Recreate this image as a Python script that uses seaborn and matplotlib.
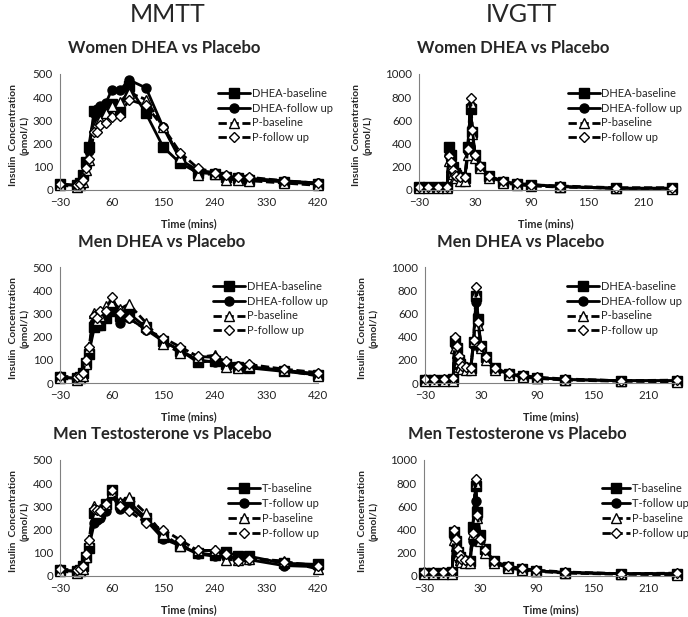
import numpy as np
import pandas as pd
import matplotlib
matplotlib.use("Agg")
import matplotlib.pyplot as plt
import seaborn as sns

sns.set_style("white")
plt.rcParams['font.family'] = ['Lato', 'DejaVu Sans']

# ----------------------------
# Data
# ----------------------------
mmtt_time = [-30, 0, 5, 10, 15, 20, 30, 35, 40, 50, 60, 75, 90, 120, 150, 180, 210, 240, 260, 280, 300, 360, 420]
ivgtt_time = [-30, -20, -10, 0, 2, 4, 6, 8, 10, 14, 19, 22, 25, 27, 30, 35, 45, 60, 75, 90, 120, 180, 240]

dhea_labels = ["DHEA-baseline", "DHEA-follow up", "P-baseline", "P-follow up"]
t_labels = ["T-baseline", "T-follow up", "P-baseline", "P-follow up"]

# MMTT - women DHEA vs placebo
mw_dhea_base = [25, 20, 30, 65, 120, 185, 340, 320, 340, 355, 370, 335, 450, 330, 185, 115, 75, 70, 55, 50, 45, 35, 25]
mw_dhea_fu = [25, 20, 25, 55, 110, 170, 330, 350, 360, 375, 430, 430, 475, 440, 270, 130, 85, 75, 60, 55, 50, 40, 30]
mw_p_base = [20, 15, 20, 35, 85, 130, 270, 290, 300, 330, 360, 380, 420, 390, 270, 140, 65, 70, 45, 45, 40, 30, 20]
mw_p_fu = [25, 20, 25, 45, 95, 135, 250, 250, 280, 290, 315, 320, 390, 365, 270, 160, 95, 75, 65, 55, 55, 40, 30]

# MMTT - men DHEA vs placebo
mm_dhea_base = [25, 20, 25, 45, 85, 125, 240, 250, 250, 280, 310, 290, 300, 240, 180, 140, 90, 95, 80, 70, 65, 50, 35]
mm_dhea_fu = [25, 20, 20, 35, 90, 130, 260, 270, 270, 290, 320, 260, 280, 230, 180, 140, 100, 90, 85, 75, 70, 55, 40]
mm_p_base = [20, 15, 20, 30, 80, 150, 300, 270, 290, 330, 350, 320, 340, 260, 170, 130, 110, 120, 70, 65, 75, 55, 30]
mm_p_fu = [30, 25, 30, 45, 100, 155, 290, 280, 310, 310, 370, 300, 280, 230, 195, 155, 115, 110, 95, 75, 80, 60, 45]

# MMTT - men testosterone vs placebo
mt_t_base = [25, 20, 25, 45, 80, 120, 270, 260, 270, 310, 370, 310, 320, 250, 170, 130, 100, 90, 105, 85, 85, 55, 50]
mt_t_fu = [25, 20, 20, 35, 80, 120, 230, 240, 250, 280, 350, 290, 300, 240, 160, 130, 95, 85, 80, 80, 70, 45, 40]
mt_p_base = [20, 15, 20, 30, 80, 150, 300, 270, 290, 310, 360, 320, 340, 270, 180, 130, 110, 110, 70, 70, 75, 65, 30]
mt_p_fu = [30, 25, 30, 45, 95, 155, 290, 285, 280, 310, 370, 300, 280, 230, 200, 155, 110, 110, 95, 65, 75, 60, 45]

# IVGTT - women DHEA vs placebo
iw_dhea_base = [25, 25, 25, 30, 370, 300, 200, 150, 130, 110, 100, 370, 700, 500, 300, 200, 120, 70, 55, 45, 30, 15, 15]
iw_dhea_fu = [25, 25, 25, 25, 300, 250, 170, 130, 110, 100, 100, 340, 720, 500, 300, 200, 110, 70, 55, 45, 30, 15, 15]
iw_p_base = [20, 20, 20, 20, 250, 200, 140, 110, 100, 80, 80, 300, 750, 480, 280, 190, 100, 60, 45, 35, 25, 15, 10]
iw_p_fu = [25, 25, 25, 30, 290, 240, 170, 130, 120, 110, 110, 350, 790, 520, 300, 210, 120, 75, 60, 45, 35, 20, 20]

# IVGTT - men DHEA vs placebo
im_dhea_base = [30, 30, 30, 35, 360, 300, 200, 160, 140, 130, 130, 350, 750, 550, 320, 220, 130, 80, 60, 45, 30, 20, 20]
im_dhea_fu = [30, 30, 30, 30, 330, 280, 190, 150, 130, 120, 120, 330, 700, 520, 310, 210, 120, 75, 55, 45, 30, 20, 20]
im_p_base = [20, 20, 20, 20, 300, 260, 180, 140, 120, 110, 110, 360, 780, 500, 300, 200, 110, 70, 50, 40, 25, 15, 10]
im_p_fu = [35, 35, 35, 40, 400, 320, 230, 180, 150, 140, 130, 370, 830, 530, 320, 220, 130, 85, 65, 50, 35, 20, 25]

# IVGTT - men testosterone vs placebo
it_t_base = [30, 30, 30, 35, 380, 300, 210, 160, 140, 130, 130, 420, 780, 550, 350, 230, 130, 80, 60, 45, 30, 20, 20]
it_t_fu = [30, 30, 30, 30, 340, 280, 190, 150, 130, 120, 120, 300, 650, 500, 300, 210, 120, 75, 55, 45, 30, 20, 20]
it_p_base = [20, 20, 20, 20, 310, 260, 180, 140, 120, 110, 110, 360, 800, 500, 300, 200, 110, 70, 50, 40, 25, 15, 10]
it_p_fu = [35, 35, 35, 40, 400, 320, 230, 180, 150, 140, 130, 370, 840, 530, 320, 220, 130, 85, 65, 50, 35, 20, 25]

# ----------------------------
# Plot helpers
# ----------------------------
W, H = 688, 617
dash = (0, (3, 1.3))
styles = [("s", "black", "-", 6.5), ("o", "black", "-", 6.5), ("^", "white", dash, 6.5), ("D", "white", dash, 5.5)]


def draw_panel(rect, t, series, labels, xlim, xticks, ymax, ystep, leg_xy, ylab_right, hlen=2.9):
    left, right, top, bottom = rect
    ax = fig.add_axes([left / W, 1 - bottom / H, (right - left) / W, (bottom - top) / H])
    for vals, lab, (m, fc, ls, ms) in zip(series, labels, styles):
        sns.lineplot(x=t, y=vals, ax=ax, color="black", linestyle=ls, linewidth=2.0,
                     marker=m, markersize=ms, markerfacecolor=fc, markeredgecolor="black",
                     markeredgewidth=1.0, label=lab, clip_on=False)
    ax.set_xlim(*xlim)
    ax.set_ylim(0, ymax)
    ax.set_xticks(xticks)
    ax.set_yticks(np.arange(0, ymax + 1, ystep))
    for side in ["top", "right"]:
        ax.spines[side].set_visible(False)
    for side in ["left", "bottom"]:
        ax.spines[side].set_color("#808080")
        ax.spines[side].set_linewidth(0.8)
    ax.tick_params(axis="both", direction="in", length=3, width=0.8, color="#808080",
                   labelsize=8.3, labelcolor="#222222", pad=5)
    ax.set_xlabel("Time (mins)", fontsize=7.8, fontweight="bold")
    ax.set_ylabel("Insulin  Concentration\n(pmol/L)", fontsize=7.5, fontweight="bold", linespacing=1.3)
    ax.xaxis.set_label_coords(0.5, -0.245)
    ax.yaxis.set_label_coords(-(left - ylab_right) / (right - left), 0.47)
    ax.legend(loc="upper left", bbox_to_anchor=leg_xy, frameon=False, fontsize=8,
              handlelength=hlen, handletextpad=0.15, labelspacing=0.35, borderpad=0)
    return ax


fig = plt.figure(figsize=(W / 100, H / 100), dpi=100)

mmtt_ticks = [-30, 60, 150, 240, 330, 420]
ivgtt_ticks = [-30, 30, 90, 150, 210]

draw_panel((60, 318, 74, 190), mmtt_time, [mw_dhea_base, mw_dhea_fu, mw_p_base, mw_p_fu], dhea_labels,
           (-30, 420), mmtt_ticks, 500, 100, (0.59, 0.93), 30)
draw_panel((60, 318, 267, 383), mmtt_time, [mm_dhea_base, mm_dhea_fu, mm_p_base, mm_p_fu], dhea_labels,
           (-30, 420), mmtt_ticks, 500, 100, (0.57, 0.93), 30)
draw_panel((60, 318, 460, 576), mmtt_time, [mt_t_base, mt_t_fu, mt_p_base, mt_p_fu], t_labels,
           (-30, 420), mmtt_ticks, 500, 100, (0.63, 0.85), 30)
draw_panel((419, 672, 74, 190), ivgtt_time, [iw_dhea_base, iw_dhea_fu, iw_p_base, iw_p_fu], dhea_labels,
           (-30, 240), ivgtt_ticks, 1000, 200, (0.565, 0.93), 373)
draw_panel((425, 677, 267, 383), ivgtt_time, [im_dhea_base, im_dhea_fu, im_p_base, im_p_fu], dhea_labels,
           (-30, 240), ivgtt_ticks, 1000, 200, (0.54, 0.93), 379)
draw_panel((424, 677, 460, 576), ivgtt_time, [it_t_base, it_t_fu, it_p_base, it_p_fu], t_labels,
           (-30, 240), ivgtt_ticks, 1000, 200, (0.68, 0.85), 379, hlen=2.6)

# column headers and panel titles
fig.text(168 / W, 1 - 14 / H, "MMTT", ha="center", va="center", fontsize=18)
fig.text(521 / W, 1 - 14 / H, "IVGTT", ha="center", va="center", fontsize=18)
titles = [(164, 48, "Women DHEA vs Placebo"), (513, 48, "Women DHEA vs Placebo"),
          (162, 242, "Men DHEA vs Placebo"), (521, 242, "Men DHEA vs Placebo"),
          (162, 434, "Men Testosterone vs Placebo"), (517, 434, "Men Testosterone vs Placebo")]
for x, y, s in titles:
    fig.text(x / W, 1 - y / H, s, ha="center", va="center", fontsize=12, fontweight="bold")

fig.savefig("out.png", dpi=100)
